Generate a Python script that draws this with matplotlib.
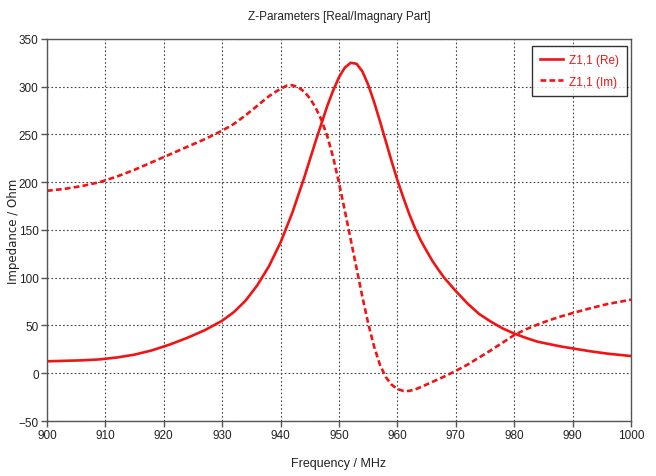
import matplotlib
matplotlib.use('Agg')
import matplotlib.pyplot as plt
import numpy as np

tick_font = ['Liberation Sans', 'DejaVu Sans']
plt.rcParams['font.size'] = 9

# Z1,1 real part (Ohm) vs frequency (MHz)
freq_re = [900, 903, 906, 909, 912, 915, 918, 921, 924, 927, 930, 932, 934, 936,
           938, 940, 942, 944, 946, 948, 949, 950, 951, 952, 953, 954, 955, 956,
           957, 958, 959, 960, 961, 962, 963, 964, 965, 966, 967, 968, 970, 972,
           974, 976, 978, 980, 982, 984, 986, 988, 990, 993, 996, 1000]
z_re = [12.5, 13, 13.5, 14.5, 16.5, 19.5, 24, 30, 37, 45, 55, 64, 76, 92,
        112, 137, 168, 204, 243, 280, 296, 310, 320, 325, 324, 316, 302, 284,
        264, 243, 222, 202, 184, 167, 152, 139, 128, 117.5, 108.5, 100, 86, 73,
        62, 54, 47, 41.5, 37, 33, 30.5, 28, 26, 23, 20.5, 18]

# Z1,1 imaginary part (Ohm)
freq_im = [900, 903, 906, 909, 912, 915, 918, 921, 924, 927, 930, 932, 934, 936,
           938, 939.5, 941, 942, 943, 944, 945, 946, 947, 948, 949, 950, 951,
           952, 953, 954, 955, 956, 957, 958, 959, 960, 961, 962, 963, 964, 966,
           968, 970, 972, 974, 976, 978, 980, 982, 984, 986, 988, 990, 993, 996,
           1000]
z_im = [191, 193, 196, 200, 206, 213, 221, 229, 237, 245, 254, 261, 270, 280,
        290, 296, 301, 301.5, 299.5, 295, 288, 278, 265, 248, 226, 199, 170,
        140, 110, 80, 52, 28, 9, -4, -12, -16.5, -18.5, -18.5, -17, -14.5, -9,
        -3.5, 2.5, 9, 16.5, 24, 32, 40, 46, 51, 55.5, 59.5, 63, 68, 72.5,
        77]

red = '#f01414'

fig = plt.figure(figsize=(6.56, 4.77), dpi=100)
ax = fig.add_axes([0.0716, 0.1153, 0.8904, 0.8010])

ax.plot(freq_re, z_re, color=red, lw=1.9, label='Z1,1 (Re)')
ax.plot(freq_im, z_im, color=red, lw=1.9, linestyle=(0, (2.2, 1.2)),
        label='Z1,1 (Im)')

ax.set_xlim(900, 1000)
ax.set_ylim(-50, 350)
ax.set_xticks(np.arange(900, 1001, 10))
ax.set_yticks(np.arange(-50, 351, 50))
ax.grid(True, color='#444444', linestyle=(0, (1.5, 2)), linewidth=0.8)

for s in ax.spines.values():
    s.set_color('#555555')
    s.set_linewidth(1.0)
ax.tick_params(direction='out', length=4, width=1, color='#555555',
               labelsize=8.5, pad=2)
for lab in ax.get_xticklabels() + ax.get_yticklabels():
    lab.set_family(tick_font)
    lab.set_color('#222222')

ax.set_xlabel('Frequency / MHz', family=tick_font, fontsize=9, labelpad=11,
              color='#222222')
ax.set_ylabel('Impedance / Ohm', family='DejaVu Sans', fontsize=8.5,
              color='#222222')
ax.yaxis.set_label_coords(-0.047, 0.5)
ax.set_title('Z-Parameters [Real/Imagnary Part]', family=tick_font,
             fontsize=8.5, pad=14, color='#222222')

leg = ax.legend(loc='upper right', bbox_to_anchor=(0.993, 0.982),
                frameon=True, fancybox=False, shadow=False, borderpad=0.7,
                handlelength=1.9, prop={'family': tick_font, 'size': 8.5},
                labelspacing=0.8, handletextpad=0.5, borderaxespad=0)
leg.get_frame().set_edgecolor('black')
leg.get_frame().set_linewidth(1.0)
for t in leg.get_texts():
    t.set_color(red)

fig.savefig('out.png', dpi=100)
